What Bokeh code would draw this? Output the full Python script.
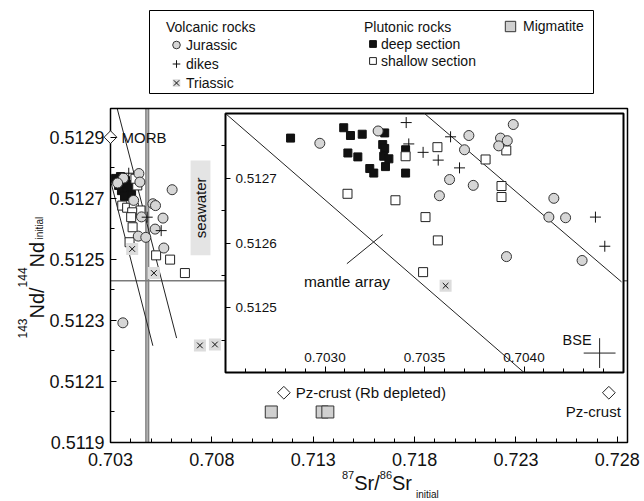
import numpy as np
from bokeh.plotting import figure
from bokeh.models import (Range1d, LinearAxis, FixedTicker, PrintfTickFormatter, Label,
                          Legend, LegendItem, BoxAnnotation)
from bokeh.embed import file_html
from bokeh.resources import INLINE

FONT = "Liberation Sans"

# ---------------- main panel data (87Sr/86Sr initial, 143Nd/144Nd initial) ----------------
jurassic_sr = [0.70440, 0.70364, 0.70335, 0.70445, 0.70604, 0.70509, 0.70522, 0.70453, 0.70559,
               0.70520, 0.70437, 0.70474, 0.70563, 0.70361, 0.70414]
jurassic_nd = [0.512781, 0.512766, 0.512750, 0.512753, 0.512728, 0.512682, 0.512676, 0.512639,
               0.512635, 0.512599, 0.512576, 0.512572, 0.512537, 0.512292, 0.512693]
dikes_sr = [0.70390, 0.70481, 0.70550]
dikes_nd = [0.512782, 0.512638, 0.512594]
triassic_sr = [0.70407, 0.70514, 0.70741, 0.70815]
triassic_nd = [0.512534, 0.512455, 0.512218, 0.512221]
deep_sr = [0.70325, 0.70349, 0.70374, 0.70340, 0.70364, 0.70389, 0.70354, 0.70379, 0.70399,
           0.70369, 0.70344, 0.70404]
deep_nd = [0.512765, 0.512771, 0.512758, 0.512742, 0.512739, 0.512745, 0.512725, 0.512719,
           0.512732, 0.512706, 0.512755, 0.512712]
shallow_sr = [0.70358, 0.70382, 0.70415, 0.70432, 0.70423, 0.70448, 0.70407, 0.70402, 0.70409,
              0.70394, 0.70525, 0.70594, 0.70667]
shallow_nd = [0.512676, 0.512669, 0.512669, 0.512742, 0.512764, 0.512660, 0.512654, 0.512638,
              0.512605, 0.512556, 0.512513, 0.512499, 0.512455]
migmatite_sr = [0.71093, 0.71344, 0.71372]
migmatite_nd = [0.51200, 0.51200, 0.51200]
ref_names = ["MORB", "Pz-crust (Rb depleted)", "Pz-crust"]
ref_sr = [0.70300, 0.71155, 0.72758]
ref_nd = [0.51290, 0.512063, 0.512063]

bse_band_sr = [0.70474, 0.70489]
bse_line_nd = 0.51243
seawater_sr = [0.70695, 0.70793]
seawater_nd = [0.512513, 0.512824]
mantle1_sr = [0.70300, 0.70509]
mantle1_nd = [0.512758, 0.512217]
mantle2_sr = [0.70333, 0.70626]
mantle2_nd = [0.512994, 0.512242]

# ---------------- inset data ----------------
in_deep_sr = [0.702827, 0.703094, 0.703128, 0.703187, 0.703300, 0.703290, 0.703300, 0.703295,
              0.703321, 0.703304, 0.703225, 0.703245, 0.703115, 0.703165, 0.703405, 0.703405]
in_deep_nd = [0.512762, 0.512778, 0.512766, 0.512768, 0.512770, 0.512752, 0.512746, 0.512734,
              0.512730, 0.512718, 0.512715, 0.512708, 0.512739, 0.512733, 0.512744, 0.512708]
in_jur_sr = [0.702974, 0.703267, 0.703723, 0.703701, 0.703946, 0.703882, 0.703916, 0.703873,
             0.703626, 0.703745, 0.703575, 0.704150, 0.704125, 0.704209, 0.703912, 0.704292]
in_jur_nd = [0.512754, 0.512773, 0.512766, 0.512744, 0.512783, 0.512762, 0.512758, 0.512750,
             0.512698, 0.512689, 0.512673, 0.512669, 0.512640, 0.512639, 0.512579, 0.512573]
in_dikes_sr = [0.703408, 0.703421, 0.703493, 0.703569, 0.703631, 0.703676, 0.704359, 0.704406]
in_dikes_nd = [0.512786, 0.512753, 0.512740, 0.512728, 0.512764, 0.512716, 0.512640, 0.512595]
in_shallow_sr = [0.703405, 0.703565, 0.703113, 0.703354, 0.703505, 0.703567, 0.703493, 0.703807,
                 0.703911, 0.703887, 0.703887]
in_shallow_nd = [0.512734, 0.512748, 0.512676, 0.512666, 0.512640, 0.512604, 0.512555, 0.512729,
                 0.512743, 0.512688, 0.512671]
in_tri_sr = [0.703606]
in_tri_nd = [0.512534]
in_mantleA_sr = [0.70250, 0.70400]
in_mantleA_nd = [0.51280, 0.51240]
in_mantleB_sr = [0.70350, 0.70449]
in_mantleB_nd = [0.51280, 0.51254]
in_mantle_tick_sr = [0.70311, 0.70329]
in_mantle_tick_nd = [0.512568, 0.512613]
bse_sr, bse_nd = 0.70438, 0.51243
bse_arm_sr, bse_arm_nd = 0.00008, 0.000023

# ---------------- ticks ----------------
X_RANGE = (0.703, 0.7285)
Y_RANGE = (0.5119, 0.512994)
x_major = [0.703, 0.708, 0.713, 0.718, 0.723, 0.728]
x_minor = [round(0.703 + 0.001 * i, 3) for i in range(26)]
y_major = [0.5119, 0.5121, 0.5123, 0.5125, 0.5127, 0.5129]
y_minor = [0.5120, 0.5122, 0.5124, 0.5126, 0.5128]
INSET_X = (0.7025, 0.7045)
INSET_Y = (0.5124, 0.5128)
in_x_major = [0.7030, 0.7035, 0.7040]
in_x_minor = [round(0.7026 + 0.0001 * i, 4) for i in range(19)]
in_y_major = [0.5125, 0.5126, 0.5127]
in_y_minor = [0.51245, 0.51255, 0.51265, 0.51275]

# ---------------- layout geometry (page pixels) ----------------
W, H = 644, 501
FL, FR, FT, FB = 110, 627, 108, 442          # plot area edges
IL, IR, IT, IB = 225, 623, 113, 372          # inset box

# the frame covers the whole canvas; data ranges are mapped onto the plot area
kx = (X_RANGE[1] - X_RANGE[0]) / (FR - FL)
ky = (Y_RANGE[1] - Y_RANGE[0]) / (FB - FT)
sx = (INSET_X[1] - INSET_X[0]) / (IR - IL)
sy = (INSET_Y[1] - INSET_Y[0]) / (IB - IT)

p = figure(width=W, height=H, output_backend="svg", toolbar_location=None,
           x_range=Range1d(X_RANGE[0] - FL * kx, X_RANGE[1] + (W - FR) * kx),
           y_range=Range1d(Y_RANGE[0] - (H - FB) * ky, Y_RANGE[1] + FT * ky),
           x_axis_type=None, y_axis_type=None,
           min_border_left=0, min_border_right=0, min_border_top=0, min_border_bottom=0)
p.outline_line_color = None
p.background_fill_color = "white"
p.border_fill_color = "white"
p.extra_x_ranges = {"ix": Range1d(INSET_X[0] - IL * sx, INSET_X[1] + (W - IR) * sx)}
p.extra_y_ranges = {"iy": Range1d(INSET_Y[0] - (H - IB) * sy, INSET_Y[1] + IT * sy)}

# main axes
xa = LinearAxis(fixed_location=Y_RANGE[0], ticker=FixedTicker(ticks=x_major, minor_ticks=x_minor),
                formatter=PrintfTickFormatter(format="%.3f"))
ya = LinearAxis(fixed_location=X_RANGE[0], ticker=FixedTicker(ticks=y_major, minor_ticks=y_minor),
                formatter=PrintfTickFormatter(format="%.4f"))
for ax in (xa, ya):
    ax.major_tick_in = 6
    ax.major_tick_out = 0
    ax.minor_tick_in = 4
    ax.minor_tick_out = 0
    ax.axis_line_color = None
    ax.major_tick_line_color = "black"
    ax.minor_tick_line_color = "black"
    ax.major_label_text_font = FONT
    ax.major_label_text_font_size = "18px"
    ax.major_label_text_color = "#111111"
xa.major_label_standoff = 10
ya.major_label_standoff = 6
p.add_layout(xa, "below")
p.add_layout(ya, "left")

# ---------------- main panel glyphs ----------------
p.quad(left=[seawater_sr[0]], right=[seawater_sr[1]], bottom=[seawater_nd[0]], top=[seawater_nd[1]],
       fill_color="#e4e4e4", line_color=None)
p.quad(left=[bse_band_sr[0]], right=[bse_band_sr[1]], bottom=[Y_RANGE[0]], top=[Y_RANGE[1]],
       fill_color="#b0b0b0", line_color="#555555", line_width=0.8)
p.segment(x0=[X_RANGE[0]], x1=[X_RANGE[1]], y0=[bse_line_nd], y1=[bse_line_nd],
          line_color="#7a7a7a", line_width=1.5)
p.line(mantle1_sr, mantle1_nd, line_color="#222222", line_width=1)
p.line(mantle2_sr, mantle2_nd, line_color="#222222", line_width=1)
# plot-area border
p.quad(left=[X_RANGE[0]], right=[X_RANGE[1]], bottom=[Y_RANGE[0]], top=[Y_RANGE[1]],
       fill_color=None, line_color="black", line_width=1.5)

r_deep = p.scatter(deep_sr, deep_nd, marker="square", size=8, fill_color="#111111", line_color="#111111")
r_shallow = p.scatter(shallow_sr, shallow_nd, marker="square", size=9, fill_color="white",
                      line_color="#222222", line_width=1)
r_jur = p.scatter(jurassic_sr, jurassic_nd, marker="circle", size=10, fill_color="#d6d6d6",
                  line_color="#333333", line_width=1)
r_dikes = p.scatter(dikes_sr, dikes_nd, marker="cross", size=11, line_color="#111111", line_width=1)
r_tri_bg = p.scatter(triassic_sr, triassic_nd, marker="square", size=12, fill_color="#dcdcdc", line_color=None)
r_tri = p.scatter(triassic_sr, triassic_nd, marker="x", size=8, line_color="#111111", line_width=1)
r_mig = p.scatter(migmatite_sr, migmatite_nd, marker="square", size=12, fill_color="#d0d0d0",
                  line_color="#333333", line_width=1)
p.scatter(ref_sr, ref_nd, marker="square", angle=np.pi / 4, size=9, fill_color="white",
          line_color="#222222", line_width=1)

lab_kw = dict(text_font=FONT, text_font_size="15px", text_color="#111111", text_baseline="middle")
p.add_layout(Label(x=ref_sr[0], y=ref_nd[0], x_offset=11, text=ref_names[0], **lab_kw))
p.add_layout(Label(x=ref_sr[1], y=ref_nd[1], x_offset=12, text=ref_names[1], **lab_kw))
p.add_layout(Label(x=ref_sr[2], y=ref_nd[2], x_offset=12, y_offset=-19, text=ref_names[2],
                   text_align="right", **lab_kw))
p.add_layout(Label(x=sum(seawater_sr) / 2, y=sum(seawater_nd) / 2, text="seawater", angle=np.pi / 2,
                   text_align="center", **lab_kw))

# ---------------- inset ----------------
ikw = dict(x_range_name="ix", y_range_name="iy")
p.quad(left=[INSET_X[0]], right=[INSET_X[1]], bottom=[INSET_Y[0]], top=[INSET_Y[1]],
       fill_color="white", line_color="black", line_width=2, **ikw)
p.line(in_mantleA_sr, in_mantleA_nd, line_color="#222222", line_width=1, **ikw)
p.line(in_mantleB_sr, in_mantleB_nd, line_color="#222222", line_width=1, **ikw)
p.line(in_mantle_tick_sr, in_mantle_tick_nd, line_color="#222222", line_width=1, **ikw)
p.segment(x0=[bse_sr - bse_arm_sr, bse_sr], x1=[bse_sr + bse_arm_sr, bse_sr],
          y0=[bse_nd, bse_nd - bse_arm_nd], y1=[bse_nd, bse_nd + bse_arm_nd],
          line_color="#222222", line_width=1, **ikw)
p.scatter(in_deep_sr, in_deep_nd, marker="square", size=8, fill_color="#111111", line_color="#111111", **ikw)
p.scatter(in_shallow_sr, in_shallow_nd, marker="square", size=9, fill_color="white",
          line_color="#222222", line_width=1, **ikw)
p.scatter(in_jur_sr, in_jur_nd, marker="circle", size=10, fill_color="#d6d6d6",
          line_color="#333333", line_width=1, **ikw)
p.scatter(in_dikes_sr, in_dikes_nd, marker="cross", size=11, line_color="#111111", line_width=1, **ikw)
p.scatter(in_tri_sr, in_tri_nd, marker="square", size=12, fill_color="#dcdcdc", line_color=None, **ikw)
p.scatter(in_tri_sr, in_tri_nd, marker="x", size=8, line_color="#111111", line_width=1, **ikw)

p.add_layout(Label(x=in_mantle_tick_sr[0], y=in_mantle_tick_nd[0], x_offset=-43, y_offset=-18,
                   text="mantle array", text_font=FONT, text_font_size="15.5px", text_color="#111111",
                   text_baseline="middle", **ikw))
p.add_layout(Label(x=bse_sr, y=bse_nd, x_offset=-8, y_offset=13, text="BSE", text_align="right",
                   text_font=FONT, text_font_size="14.5px", text_color="#111111",
                   text_baseline="middle", **ikw))

iax = LinearAxis(fixed_location=INSET_Y[0], ticker=FixedTicker(ticks=in_x_major, minor_ticks=in_x_minor),
                 formatter=PrintfTickFormatter(format="%.4f"), **ikw)
iax.major_tick_out = 6
iax.major_tick_in = 0
iax.minor_tick_out = 4
iax.minor_tick_in = 0
iax.major_label_standoff = 5
p.add_layout(iax, "above")
iay = LinearAxis(fixed_location=INSET_X[0], ticker=FixedTicker(ticks=in_y_major, minor_ticks=in_y_minor),
                 formatter=PrintfTickFormatter(format="%.4f"), **ikw)
iay.major_tick_out = 5
iay.major_tick_in = 0
iay.minor_tick_out = 0
iay.minor_tick_in = 4
iay.major_label_standoff = 5
p.add_layout(iay, "right")
for ax in (iax, iay):
    ax.axis_line_color = None
    ax.major_tick_line_color = "black"
    ax.minor_tick_line_color = "black"
    ax.major_label_text_font = FONT
    ax.major_label_text_font_size = "13.5px"
    ax.major_label_text_color = "#111111"

# ---------------- axis titles (rich text pieces) ----------------
def add_piece(text, page_x, page_y, size, angle=0.0):
    p.add_layout(Label(x=page_x, y=H - page_y, x_units="screen", y_units="screen", text=text,
                       angle=angle, text_font=FONT, text_font_size=size, text_color="#111111",
                       text_align="left", text_baseline="alphabetic"))

# x title: 87Sr/86Sr initial
add_piece("87", 341.5, 474, "11px")
add_piece("Sr/", 353.7, 482, "20px")
add_piece("86", 379.3, 474, "11px")
add_piece("Sr", 391.5, 482, "20px")
add_piece("initial", 415.5, 494, "10px")
# y title: 143Nd/144Nd initial (rotated)
A = np.pi / 2
add_piece("143", 22, 338, "12px", A)
add_piece("Nd/", 36, 318, "20px", A)
add_piece("144", 22, 286.9, "12px", A)
add_piece("Nd", 36, 266.9, "20px", A)
add_piece("initial", 39, 239, "10px", A)

# ---------------- legend ----------------
common = dict(border_line_color=None, background_fill_alpha=0, padding=0, margin=0, spacing=0,
              label_text_font=FONT, label_text_font_size="14px", label_text_color="#111111",
              title_text_font=FONT, title_text_font_size="14px", title_text_font_style="normal",
              title_text_color="#111111", title_standoff=0, label_standoff=0)
leg_v = Legend(items=[LegendItem(label="Jurassic", renderers=[r_jur]),
                      LegendItem(label="dikes", renderers=[r_dikes]),
                      LegendItem(label="Triassic", renderers=[r_tri_bg, r_tri])],
               title="Volcanic rocks", location=(166, H - 92),
               glyph_width=20, glyph_height=19, label_height=19, **common)
leg_p = Legend(items=[LegendItem(label="deep section", renderers=[r_deep]),
                      LegendItem(label="shallow section", renderers=[r_shallow])],
               title="Plutonic rocks", location=(364, H - 69),
               glyph_width=17, glyph_height=17, label_height=17, **common)
leg_m = Legend(items=[LegendItem(label="Migmatite", renderers=[r_mig])],
               location=(497, H - 40), glyph_width=26, glyph_height=28, label_height=28, **common)
for lg in (leg_v, leg_p, leg_m):
    p.add_layout(lg, "center")
p.add_layout(BoxAnnotation(left=149, right=593, top=H - 10, bottom=H - 93,
                           left_units="screen", right_units="screen", top_units="screen",
                           bottom_units="screen", fill_alpha=0, line_color="black", line_width=1,
                           line_alpha=1))

open("out.html", "w").write(file_html(p, INLINE))
